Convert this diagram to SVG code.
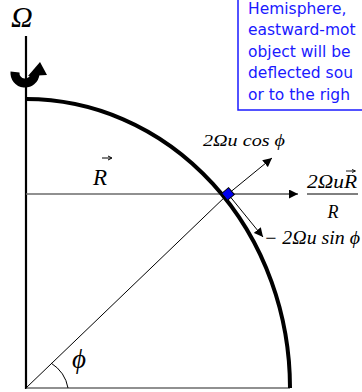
<svg xmlns="http://www.w3.org/2000/svg" width="362" height="392" viewBox="0 0 362 392">
<style>
.note{font-family:"DejaVu Sans","Liberation Sans",sans-serif;font-size:15.5px;fill:#1a1aff}
.m{font-family:"Liberation Serif","Times New Roman",serif;font-style:italic;fill:#000}
.thin{stroke:#000;stroke-width:1;fill:none}
.gray{stroke:#6b6b6b;stroke-width:1.6;fill:none}
</style>
<defs>
<marker id="ah" viewBox="0 0 10 10" refX="10" refY="5" markerWidth="9" markerHeight="9" markerUnits="userSpaceOnUse" orient="auto">
<path d="M0,0 L10,5 L0,10 z" fill="#000"/>
</marker>
</defs>
<rect width="362" height="392" fill="#fff"/>

<g id="note">
<rect x="238" y="-5" width="140" height="115" fill="#fff" stroke="#1a1aff" stroke-width="1.5"/>
<text class="note" x="248" y="13.5">Hemisphere,</text>
<text class="note" x="248" y="35">eastward-mot</text>
<text class="note" x="248" y="56.5">object will be</text>
<text class="note" x="248" y="78">deflected sou</text>
<text class="note" x="248" y="99.5">or to the righ</text>
</g>

<g id="axis">
<line x1="26" y1="36" x2="26" y2="389" stroke="#000" stroke-width="2.2"/>
<text class="m" x="11" y="27" font-size="30">Ω</text>
</g>

<g id="rotation">
<path d="M15,72 A10 10 0 0 0 35 74" fill="none" stroke="#000" stroke-width="9"/>
<path d="M28,76 L47,75 L40,62 z" fill="#000"/>
</g>

<g id="connectors">
<line class="gray" x1="26" y1="388" x2="290" y2="388"/>
<line class="gray" x1="26" y1="194" x2="228" y2="194"/>
<line class="thin" x1="26" y1="388" x2="228" y2="194"/>
<path class="thin" d="M68,388 A42 38 0 0 0 51,363"/>
<line class="thin" x1="228" y1="194" x2="298" y2="194" marker-end="url(#ah)"/>
<line class="thin" x1="228" y1="194" x2="272" y2="158" marker-end="url(#ah)"/>
<line class="thin" x1="228" y1="194" x2="263" y2="237" marker-end="url(#ah)"/>
</g>

<g id="earth">
<path d="M26,99 A264 289 0 0 1 290 388" fill="none" stroke="#000" stroke-width="4"/>
</g>

<g id="object">
<rect x="223.5" y="189.5" width="9" height="9" fill="#0000ee" stroke="#000" stroke-width="1" transform="rotate(-40 228 194)"/>
</g>

<g id="labels">
<text class="m" x="93" y="185" font-size="23">R</text>
<path d="M102,158 L111,158" stroke="#000" stroke-width="1"/>
<path d="M108,156 L112,158 L108,160" fill="none" stroke="#000" stroke-width="1"/>
<text class="m" x="72" y="368" font-size="27">ϕ</text>
<text class="m" x="203" y="146" font-size="17" textLength="82" lengthAdjust="spacingAndGlyphs">2Ωu cos ϕ</text>
<text class="m" x="307" y="188" font-size="18" textLength="50" lengthAdjust="spacingAndGlyphs">2ΩuR</text>
<path d="M346,171 L355,171" stroke="#000" stroke-width="0.9"/>
<path d="M352,169.5 L355.5,171 L352,172.5" fill="none" stroke="#000" stroke-width="0.9"/>
<line x1="307" y1="194" x2="358" y2="194" stroke="#000" stroke-width="1"/>
<text class="m" x="333" y="218" font-size="18" text-anchor="middle">R</text>
<text class="m" x="264" y="244" font-size="18" textLength="96" lengthAdjust="spacingAndGlyphs">− 2Ωu sin ϕ</text>
</g>
</svg>
